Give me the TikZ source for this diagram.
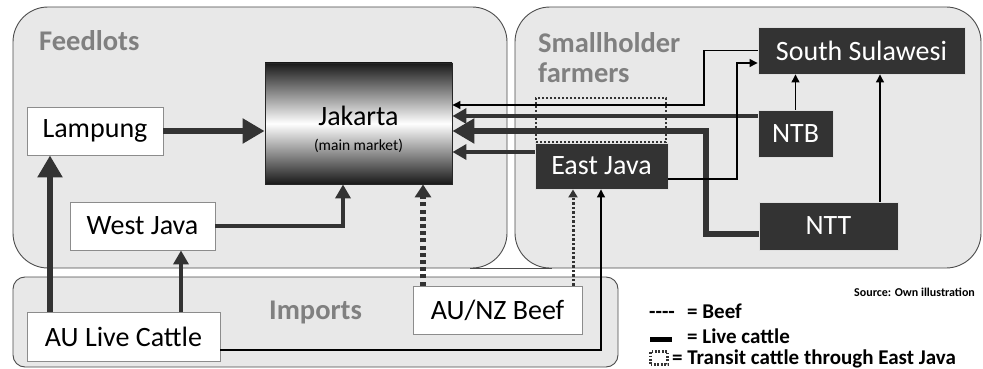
\documentclass[tikz,border=0pt]{standalone}
\usepackage{fontspec}
\setmainfont{Carlito}
\usetikzlibrary{arrows.meta,calc}
\begin{document}
\begin{tikzpicture}[x=1pt,y=-1pt,
  group/.style={draw=black!70, fill=black!9, line width=0.9pt, rounded corners=35pt, inner sep=0pt},
  grouplabel/.style={text=black!50, font=\fontsize{28.5}{30}\selectfont\bfseries, anchor=base west, inner sep=0pt, align=left},
  whitebox/.style={draw=black!45, fill=white, line width=0.9pt, font=\fontsize{28}{30}\selectfont, inner sep=0pt},
  darkbox/.style={draw=black!12, fill=black!80, text=white, line width=0.9pt, font=\fontsize{28}{30}\selectfont, inner sep=0pt},
  flowA/.style={draw=black!80, line width=6.5pt, -{Triangle[length=22pt,width=24pt]}},
  flowB/.style={draw=black!80, line width=4.5pt, -{Triangle[length=14pt,width=15pt]}},
  flowC/.style={draw=black, line width=1.2pt, -{Triangle[length=8pt,width=8pt]}},
  beefA/.style={draw=black!80, line width=5.5pt, dash pattern=on 4pt off 3.2pt, -{Triangle[length=13pt,width=16pt]}},
  beefB/.style={draw=black!80, line width=3pt, dash pattern=on 2.5pt off 2pt, -{Triangle[length=8pt,width=9pt]}},
  transitbox/.style={draw=black!80, line width=2.6pt, dash pattern=on 2.4pt off 1.6pt, inner sep=0pt},
  legtext/.style={font=\fontsize{21}{22}\selectfont\bfseries, anchor=base west, inner sep=0pt},
]
\useasboundingbox (0,0) rectangle (983,369);
\fill[white] (0,0) rectangle (983,369);

% region boxes
\node[group, minimum width=494pt, minimum height=261pt] (feedlots) at (260,137.5) {};
\node[group, minimum width=466pt, minimum height=261pt] (smallholder) at (748,137.5) {};
\draw[draw=black!70, line width=0.9pt] (feedlots.south -| 470,0) -- (smallholder.south -| 552,0);
\node[group, rounded corners=12pt, minimum width=605pt, minimum height=90pt] (imports) at (315.5,322) {};

\node[grouplabel] (lfeed) at (39,51) {Feedlots};
\node[grouplabel] (lsmall) at (538,53) {Smallholder};
\node[grouplabel] (lsmall2) at (538,82) {farmers};
\node[grouplabel] (limp) at (269,319) {Imports};

% transit zone above East Java
\node[transitbox, minimum width=130pt, minimum height=44pt] (transit) at (601,120) {};

% market and regions
\node[whitebox, minimum width=136pt, minimum height=48pt] (lampung) at (95,131) {Lampung};
\node[whitebox, minimum width=145pt, minimum height=48pt] (westjava) at (142.5,226) {West Java};
\node[whitebox, minimum width=193pt, minimum height=49pt] (aulc) at (123.5,336.5) {AU Live Cattle};
\node[whitebox, minimum width=169pt, minimum height=48pt] (aunz) at (497.5,310) {AU/NZ Beef};
\node[draw=black!85, line width=0.9pt, top color=black!90, bottom color=black!90, middle color=white,
      minimum width=187pt, minimum height=121pt, inner sep=0pt] (jakarta) at (358.5,123.5) {};
\node[font=\fontsize{28}{30}\selectfont, anchor=base, inner sep=0pt] (jaktxt) at (358.5,125) {Jakarta};
\node[font=\fontsize{15.5}{17}\selectfont, anchor=base, inner sep=0pt] (jaksub) at (358.5,150) {(main market)};

\node[darkbox, minimum width=207pt, minimum height=47pt] (ssul) at (861.5,50.5) {South Sulawesi};
\node[darkbox, minimum width=75pt, minimum height=47pt] (ntb) at (795.5,133.5) {NTB};
\node[darkbox, minimum width=133pt, minimum height=46pt] (eastjava) at (601.5,166) {East Java};
\node[darkbox, minimum width=139pt, minimum height=48pt] (ntt) at (828.5,226) {NTT};

% flows into the feedlots and Jakarta
\draw[flowA] (aulc.north -| 50,0) -- (lampung.south -| 50,0);
\draw[flowB] (aulc.north -| 181,0) -- (westjava.south -| 181,0);
\draw[flowA] (lampung.east) -- (jakarta.west |- lampung.east);
\draw[flowB] (westjava.east) -| (jakarta.south -| 343,0);
\draw[beefA] (aunz.north -| 423,0) -- (jakarta.south -| 423,0);
\draw[beefB] (aunz.north -| 573,0) -- (eastjava.south -| 573,0);
\draw[flowC] (aulc.east |- 0,350) -| (eastjava.south -| 601,0);

% flows from the smallholder regions
\draw[flowC] (ssul.west) -| (704,105) -- (jakarta.east |- 0,105);
\draw[flowB] (ntb.west |- 0,116) -- (jakarta.east |- 0,116);
\draw[flowA] (ntt.west |- 0,234) -| (706,131) -- (jakarta.east |- 0,131);
\draw[flowB] (eastjava.west |- 0,152) -- (jakarta.east |- 0,152);
\draw[flowC] (eastjava.east |- 0,179) -| (737,63) -- (ssul.west |- 0,63);
\draw[flowC] (ntb.north) -- (ssul.south -| ntb.north);
\draw[flowC] (ntt.north -| 880,0) -- (ssul.south -| 880,0);

% legend
\node[font=\fontsize{12}{13}\selectfont\bfseries, anchor=base west, inner sep=0pt] (source) at (854,296) {Source: Own illustration};
\node[legtext] (ldash) at (649,318) {-\kern0pt-\kern0pt-\kern0pt-};
\node[legtext] (lbeef) at (687,318) {= Beef};
\node[fill=black, minimum width=22pt, minimum height=5pt, inner sep=0pt] (lbar) at (661,339) {};
\node[legtext] (llive) at (687,343) {= Live cattle};
\node[transitbox, line width=2.2pt, dash pattern=on 1.8pt off 1.6pt, minimum width=17pt, minimum height=13pt] (ltransit) at (659,358) {};
\node[legtext] (ltrans) at (672,364) {= Transit cattle through East Java};
\end{tikzpicture}
\end{document}
